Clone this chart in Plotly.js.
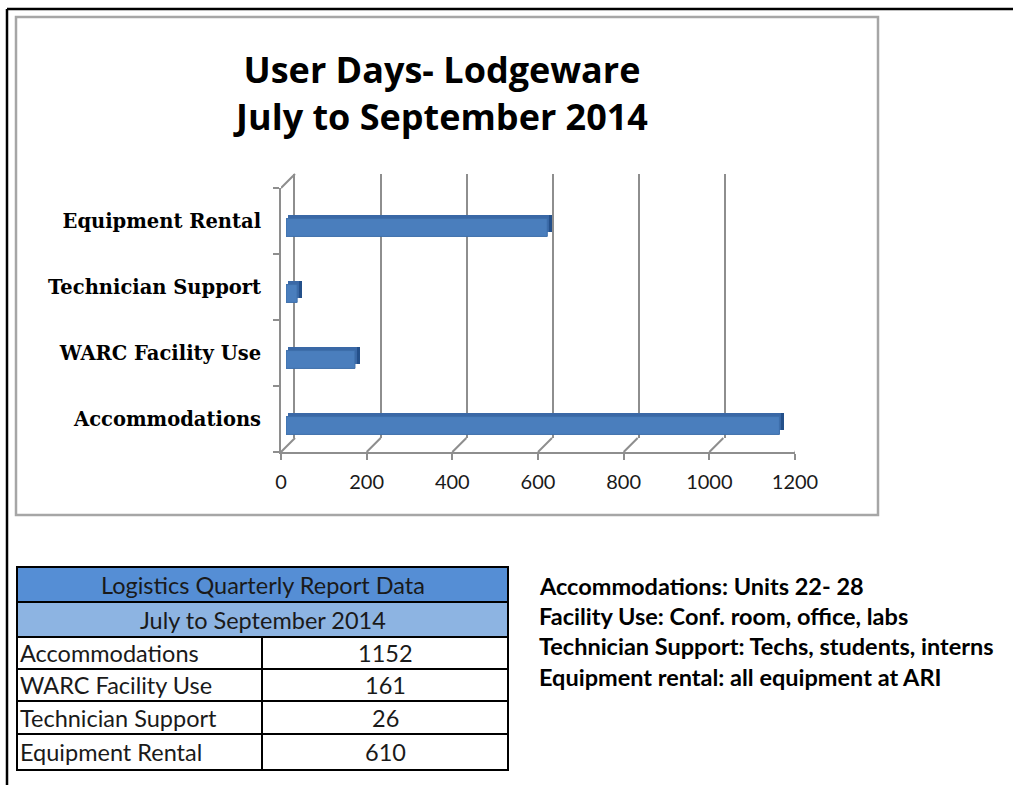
<!DOCTYPE html>
<html>
<head>
<meta charset="utf-8">
<script src="https://cdn.plot.ly/plotly-3.0.1.min.js"></script>
<style>html,body{margin:0;padding:0;background:#fff;}#chart{width:1013px;height:785px;}</style>
</head>
<body>
<div id="chart"></div>
<script>
// ---- data ----
const categories = ['Accommodations', 'WARC Facility Use', 'Technician Support', 'Equipment Rental'];
const userDays = [1152, 161, 26, 610];
const xTickValues = [0, 200, 400, 600, 800, 1000, 1200];
const chartTitleLines = ['User Days- Lodgeware', 'July to September 2014'];
const tableTitleLines = ['Logistics Quarterly Report Data', 'July to September 2014'];
const noteLines = [
  'Accommodations: Units 22- 28',
  'Facility Use: Conf. room, office, labs',
  'Technician Support: Techs, students, interns',
  'Equipment rental: all equipment at ARI'
];

// ---- geometry helpers (pixel -> paper) ----
const W = 1013, H = 785;
const px = v => v / W;
const py = v => 1 - v / H;
const gridColor = '#8e8e8e';
const SANS = 'Lato, Carlito, Calibri, sans-serif';
const TITLE_FONT = '"Open Sans", Lato, sans-serif';
const SERIF = '"DejaVu Serif", Cambria, serif';
const xMax = xTickValues[xTickValues.length - 1];
const depth = 14;

const hidden = {visible: false, fixedrange: true};

const traces = [
  // back wall (grid only)
  {type: 'scatter', x: [], y: [], xaxis: 'x', yaxis: 'y', hoverinfo: 'skip', showlegend: false},
  // front axes carrier (category registration)
  {type: 'scatter', mode: 'markers', x: userDays, y: categories, xaxis: 'x2', yaxis: 'y2',
   marker: {opacity: 0, size: 1}, hoverinfo: 'skip', showlegend: false},
  // bar end face (depth)
  {type: 'bar', orientation: 'h', x: userDays, y: categories, xaxis: 'x3', yaxis: 'y3',
   width: 0.27, marker: {color: '#24508a', line: {width: 0}}, hoverinfo: 'skip', showlegend: false},
  // bar top face
  {type: 'bar', orientation: 'h', x: userDays, y: categories, xaxis: 'x4', yaxis: 'y4',
   width: 0.27, marker: {color: '#3a68a6', line: {width: 0}}, hoverinfo: 'skip', showlegend: false},
  // bar front face
  {type: 'bar', orientation: 'h', x: userDays, y: categories, xaxis: 'x5', yaxis: 'y5',
   width: 0.27, marker: {color: '#4a7ebd', line: {color: '#3d6eaa', width: 1}},
   name: 'User Days', showlegend: false}
];

const barTop = 194.5, barBot = 458.5;
const layout = {
  width: W, height: H,
  margin: {l: 0, r: 0, t: 0, b: 0},
  paper_bgcolor: '#ffffff', plot_bgcolor: 'rgba(0,0,0,0)',
  showlegend: false,
  bargap: 0,
  title: {
    text: chartTitleLines.join('<br>'),
    x: px(442), xanchor: 'center', xref: 'paper',
    y: py(83), yanchor: 'middle', yref: 'paper',
    font: {family: TITLE_FONT, size: 36, weight: 'bold', color: '#000000'}
  },
  // back wall
  xaxis: {domain: [px(295), px(295 + 516)], range: [0, xMax], dtick: 200, tick0: 0,
          showgrid: true, gridcolor: gridColor, gridwidth: 2, zeroline: false,
          showticklabels: false, ticks: '', showline: false, anchor: 'y', fixedrange: true},
  yaxis: {domain: [py(452 - depth), py(188 - depth)], range: [0, 1], showgrid: false, zeroline: false,
          showticklabels: false, ticks: '', showline: true, linecolor: gridColor, linewidth: 2,
          anchor: 'x', fixedrange: true},
  // front axes
  xaxis2: {domain: [px(281), px(795)], range: [0, xMax], tickvals: xTickValues,
           ticks: 'outside', ticklen: 6, tickwidth: 2, tickcolor: gridColor,
           showline: true, linecolor: gridColor, linewidth: 2, showgrid: false, zeroline: false,
           tickfont: {family: SANS, size: 20, color: '#1a1a1a'}, ticklabelstandoff: 5,
           anchor: 'y2', fixedrange: true},
  yaxis2: {domain: [py(452), py(188)], type: 'category', categoryorder: 'array', categoryarray: categories,
           range: [-0.5, 3.5], ticks: 'outside', tickson: 'boundaries', ticklen: 6, tickwidth: 2,
           tickcolor: gridColor, showline: true, linecolor: gridColor, linewidth: 2,
           showgrid: false, zeroline: false, ticklabelstandoff: 14,
           tickfont: {family: SERIF, size: 19.5, weight: 'bold', color: '#000000'},
           anchor: 'x2', fixedrange: true},
  // end-face bars (shift right 5, up 4)
  xaxis3: Object.assign({domain: [px(291), px(291 + 514)], range: [0, xMax], anchor: 'y3'}, hidden),
  yaxis3: Object.assign({domain: [py(barBot - 4), py(barTop - 4)], type: 'category', categoryorder: 'array',
          categoryarray: categories, range: [-0.5, 3.5], anchor: 'x3'}, hidden),
  // top-face bars (shift up 4, right 2)
  xaxis4: Object.assign({domain: [px(288), px(288 + 514)], range: [0, xMax], anchor: 'y4'}, hidden),
  yaxis4: Object.assign({domain: [py(barBot - 4), py(barTop - 4)], type: 'category', categoryorder: 'array',
          categoryarray: categories, range: [-0.5, 3.5], anchor: 'x4'}, hidden),
  // front bars
  xaxis5: Object.assign({domain: [px(286), px(286 + 514)], range: [0, xMax], anchor: 'y5'}, hidden),
  yaxis5: Object.assign({domain: [py(barBot), py(barTop)], type: 'category', categoryorder: 'array',
          categoryarray: categories, range: [-0.5, 3.5], anchor: 'x5'}, hidden),
  shapes: [],
  annotations: []
};

// outer page border (top + left)
layout.shapes.push({type: 'line', xref: 'paper', yref: 'paper', x0: px(7), x1: 1, y0: py(9), y1: py(9),
  line: {color: '#000', width: 2.5}});
layout.shapes.push({type: 'line', xref: 'paper', yref: 'paper', x0: px(7), x1: px(7), y0: py(9), y1: 0,
  line: {color: '#000', width: 2.5}});
// chart frame
layout.shapes.push({type: 'rect', xref: 'paper', yref: 'paper', x0: px(16), x1: px(878), y0: py(17), y1: py(515),
  line: {color: '#a6a6a6', width: 2.5}, layer: 'below'});

// floor diagonals from front ticks to back wall
xTickValues.forEach(v => {
  layout.shapes.push({type: 'line', xref: 'x2', xsizemode: 'pixel', xanchor: v, x0: 0, x1: depth,
    yref: 'paper', ysizemode: 'pixel', yanchor: py(452), y0: 0, y1: depth,
    line: {color: gridColor, width: 2}});
});
// left wall top diagonal
layout.shapes.push({type: 'line', xref: 'x2', xsizemode: 'pixel', xanchor: 0, x0: 0, x1: depth,
  yref: 'paper', ysizemode: 'pixel', yanchor: py(188), y0: 0, y1: depth,
  line: {color: gridColor, width: 2}});

// ---- table ----
const tL = 17, tR = 508, tMid = 262;
const rowEdges = [567, 602, 637, 669, 701, 734, 770];
const headFills = ['#558ed5', '#8db4e2'];
for (let r = 0; r < rowEdges.length - 1; r++) {
  layout.shapes.push({type: 'rect', xref: 'paper', yref: 'paper',
    x0: px(tL), x1: px(tR), y0: py(rowEdges[r]), y1: py(rowEdges[r + 1]),
    fillcolor: r < 2 ? headFills[r] : '#ffffff', line: {color: '#000', width: 2}});
}
layout.shapes.push({type: 'line', xref: 'paper', yref: 'paper', x0: px(tMid), x1: px(tMid),
  y0: py(rowEdges[2]), y1: py(rowEdges[rowEdges.length - 1]), line: {color: '#000', width: 2}});

const tableFont = {family: SANS, size: 23.5, color: '#1a1a1a'};
tableTitleLines.forEach((t, i) => {
  layout.annotations.push({text: t, xref: 'paper', yref: 'paper', x: px((tL + tR) / 2),
    y: py((rowEdges[i] + rowEdges[i + 1]) / 2), xanchor: 'center', yanchor: 'middle', showarrow: false,
    font: tableFont});
});
categories.forEach((c, i) => {
  const yc = py((rowEdges[i + 2] + rowEdges[i + 3]) / 2);
  layout.annotations.push({text: c, xref: 'paper', yref: 'paper', x: px(tL + 1), y: yc,
    xanchor: 'left', yanchor: 'middle', showarrow: false, font: tableFont});
  layout.annotations.push({text: String(userDays[i]), xref: 'paper', yref: 'paper', x: px((tMid + tR) / 2), y: yc,
    xanchor: 'center', yanchor: 'middle', showarrow: false, font: tableFont});
});

// ---- notes ----
const noteY = [586, 616, 646, 677];
noteLines.forEach((t, i) => {
  layout.annotations.push({text: t, xref: 'paper', yref: 'paper', x: px(537), y: py(noteY[i]),
    xanchor: 'left', yanchor: 'middle', showarrow: false,
    font: {family: SANS, size: 23.5, weight: 'bold', color: '#000'}});
});

Plotly.newPlot('chart', traces, layout, {displayModeBar: false, staticPlot: true});
</script>
</body>
</html>
